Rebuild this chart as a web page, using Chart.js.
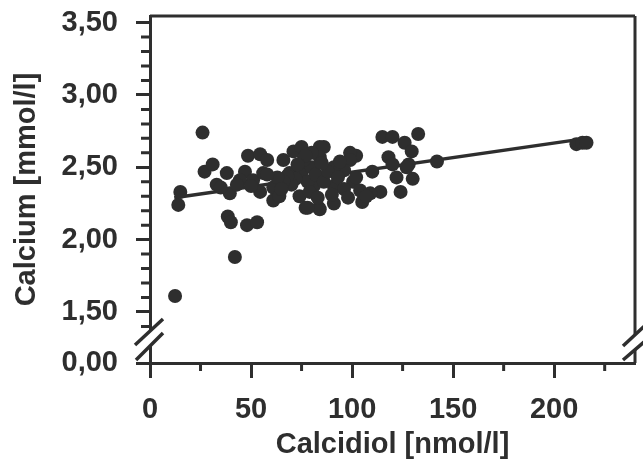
<!DOCTYPE html>
<html>
<head>
<meta charset="utf-8">
<script src="https://cdn.jsdelivr.net/npm/chart.js@4.4.0/dist/chart.umd.min.js"></script>
<style>
  body { margin: 0; background: #fff; }
  canvas { display: block; }
</style>
</head>
<body>
<canvas id="calcChart" width="643" height="462"></canvas>
<script>
// Calcidiol vs calcium (one entry per patient)
const calcidiol = [12.4, 42, 26, 15, 14, 27, 31, 33, 38, 39.5, 38.5, 40, 48, 53, 47, 48.5, 54.5, 58, 44.5, 51,
  56, 54.5, 61, 61, 64, 66, 71, 75, 69, 74, 74, 77, 84, 83.5, 81, 132.7, 115, 120, 126, 129.5,
  142, 118, 120, 122, 130, 128, 102, 99, 99, 110, 114, 109, 105, 91, 84, 78, 96, 91, 86, 84,
  91, 100.5, 211, 214, 216, 75, 78, 80, 82, 76, 72, 79, 86, 88, 93, 85, 70, 68, 96, 98,
  104, 107, 102, 80, 77, 73, 90, 83, 66, 63, 58, 65, 35, 43, 50, 124, 127, 94];
const calcium = [1.61, 1.88, 2.74, 2.33, 2.24, 2.47, 2.52, 2.38, 2.46, 2.32, 2.16, 2.12, 2.10, 2.12, 2.47, 2.58, 2.59, 2.55, 2.41, 2.41,
  2.46, 2.33, 2.36, 2.27, 2.30, 2.55, 2.61, 2.64, 2.46, 2.50, 2.30, 2.22, 2.64, 2.22, 2.37, 2.73, 2.71, 2.71, 2.67, 2.61,
  2.54, 2.57, 2.52, 2.43, 2.42, 2.52, 2.58, 2.60, 2.55, 2.47, 2.33, 2.32, 2.26, 2.25, 2.21, 2.22, 2.48, 2.50, 2.64, 2.57,
  2.37, 2.40, 2.66, 2.67, 2.67, 2.45, 2.40, 2.50, 2.45, 2.55, 2.42, 2.33, 2.40, 2.47, 2.43, 2.53, 2.38, 2.44, 2.35, 2.29,
  2.34, 2.30, 2.43, 2.60, 2.58, 2.52, 2.31, 2.29, 2.40, 2.43, 2.45, 2.35, 2.36, 2.38, 2.37, 2.33, 2.50, 2.54];

// regression line end points
const fitX = [12, 216];
const fitY = [2.29, 2.70];

// axes (the y axis is broken: its bottom edge stands for 0,00)
const xMajor = [0, 50, 100, 150, 200];
const xMinor = [25, 75, 125, 175, 225];
const yBottom = 1.147;
const yMajor = [yBottom, 1.5, 2.0, 2.5, 3.0, 3.5];
const yMinor = [1.4, 1.6, 1.7, 1.8, 1.9, 2.1, 2.2, 2.3, 2.4, 2.6, 2.7, 2.8, 2.9, 3.1, 3.2, 3.3, 3.4];

const ink = '#2e2e2e';
Chart.defaults.font.family = "'Liberation Sans', Arial, sans-serif";
Chart.defaults.font.weight = 'bold';
Chart.defaults.color = ink;

const frame = {
  id: 'frame',
  afterDraw(chart) {
    const { ctx, chartArea: a, scales } = chart;
    ctx.save();
    ctx.strokeStyle = ink;
    ctx.lineWidth = 3;
    ctx.beginPath();
    xMinor.forEach(v => {
      const px = scales.x.getPixelForValue(v);
      ctx.moveTo(px, a.bottom); ctx.lineTo(px, a.bottom + 8);
    });
    yMinor.forEach(v => {
      const py = scales.y.getPixelForValue(v);
      ctx.moveTo(a.left - 9, py); ctx.lineTo(a.left, py);
    });
    // top and right border
    ctx.moveTo(a.left, a.top); ctx.lineTo(a.right, a.top);
    ctx.moveTo(a.right, a.top); ctx.lineTo(a.right, a.bottom);
    ctx.stroke();

    // axis breaks
    ctx.fillStyle = '#fff';
    ctx.fillRect(a.left - 3, a.bottom - 32, 6, 15);
    ctx.fillRect(a.right - 3, a.bottom - 29, 6, 15);
    ctx.lineWidth = 3.5;
    ctx.beginPath();
    ctx.moveTo(a.left - 15, a.bottom - 18); ctx.lineTo(a.left + 13, a.bottom - 44);
    ctx.moveTo(a.left - 14, a.bottom - 3); ctx.lineTo(a.left + 13, a.bottom - 30);
    ctx.moveTo(a.right - 12, a.bottom - 17); ctx.lineTo(a.right + 16, a.bottom - 43);
    ctx.moveTo(a.right - 12, a.bottom - 3); ctx.lineTo(a.right + 16, a.bottom - 27);
    ctx.stroke();
    ctx.restore();
  }
};

new Chart(document.getElementById('calcChart'), {
  type: 'scatter',
  data: {
    datasets: [{
      data: calcidiol.map((x, i) => ({ x: x, y: calcium[i] })),
      backgroundColor: ink,
      borderWidth: 0,
      pointRadius: 7,
      pointHoverRadius: 7
    }, {
      type: 'line',
      data: fitX.map((x, i) => ({ x: x, y: fitY[i] })),
      borderColor: ink,
      borderWidth: 3.5,
      pointRadius: 0,
      fill: false
    }]
  },
  options: {
    responsive: false,
    animation: false,
    layout: { padding: { left: 0, right: 8, top: 16, bottom: 0 } },
    plugins: { legend: { display: false }, tooltip: { enabled: false } },
    scales: {
      x: {
        type: 'linear',
        min: 0,
        max: 240,
        afterBuildTicks: s => { s.ticks = xMajor.map(v => ({ value: v })); },
        afterFit: s => { s.height = 99; },
        grid: { drawOnChartArea: false, drawTicks: true, tickLength: 15, tickWidth: 3, tickColor: ink },
        border: { color: ink, width: 3 },
        ticks: { font: { size: 29 }, padding: 15, maxRotation: 0 },
        title: { display: true, text: 'Calcidiol [nmol/l]', font: { size: 29 }, padding: { top: 0, bottom: 0 } }
      },
      y: {
        min: yBottom,
        max: 3.546,
        afterBuildTicks: s => { s.ticks = yMajor.map(v => ({ value: v })); },
        afterFit: s => { s.width = 150; s.paddingTop = 0; s.paddingBottom = 0; },
        grid: { drawOnChartArea: false, drawTicks: true, tickLength: 14, tickWidth: 3, tickColor: ink },
        border: { color: ink, width: 3 },
        ticks: {
          font: { size: 29 },
          padding: 18,
          callback: v => Math.abs(v - yBottom) < 1e-6 ? '0,00' : v.toFixed(2).replace('.', ',')
        },
        title: { display: true, text: 'Calcium [mmol/l]', font: { size: 29 }, padding: { top: 10, bottom: 0 } }
      }
    }
  },
  plugins: [frame]
});
</script>
</body>
</html>
